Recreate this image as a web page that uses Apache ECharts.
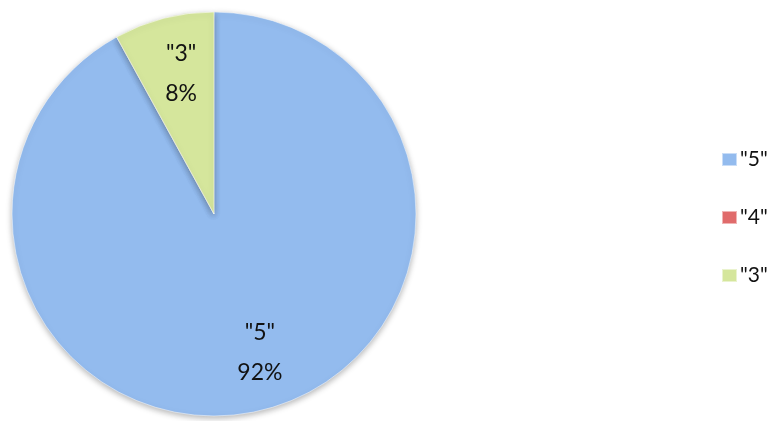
<!DOCTYPE html>
<html><head><meta charset="utf-8">
<script src="https://cdn.jsdelivr.net/npm/echarts@6/dist/echarts.min.js"></script>
<style>html,body{margin:0;padding:0;background:#fff}#c{width:781px;height:421px}</style>
</head><body><div id="c"></div>
<script>
const categories = ['"5"', '"4"', '"3"'];
const values = [92, 0, 8];
const colors = ['#93bbee', '#e06b6b', '#d5e69c'];
const labelShift = [[20, 38], [0, 0], [-7, -40]];

const chart = echarts.init(document.getElementById('c'));
chart.setOption({
  animation: false,
  legend: {
    orient: 'vertical', left: 716, top: 144,
    itemWidth: 15, itemHeight: 13, itemGap: 36, icon: 'rect', itemGap: 37,
    textStyle: { fontFamily: 'Lato', fontSize: 21, color: '#111', padding: [0,0,0,-2] },
    data: categories
  },
  series: [{
    type: 'pie', center: [214, 214], radius: [0, 202],
    startAngle: 90, clockwise: true, minAngle: 0,
    avoidLabelOverlap: false,
    label: {
      show: true, position: 'inside', fontFamily: 'Lato', fontSize: 23,
      color: '#111', lineHeight: 40,
      formatter: p => p.value > 0 ? p.name + '\n' + p.percent.toFixed(0) + '%' : ''
    },
    labelLine: { show: false },
    labelLayout: p => ({ dx: labelShift[p.dataIndex][0], dy: labelShift[p.dataIndex][1] }),
    itemStyle: { borderColor: 'rgba(255,255,255,0.5)', borderWidth: 1, shadowBlur: 6, shadowColor: 'rgba(0,0,0,0.3)', shadowOffsetY: 2 },
    data: categories.map((c, i) => ({ name: c, value: values[i], itemStyle: { color: colors[i] } }))
  }]
});
</script></body></html>
